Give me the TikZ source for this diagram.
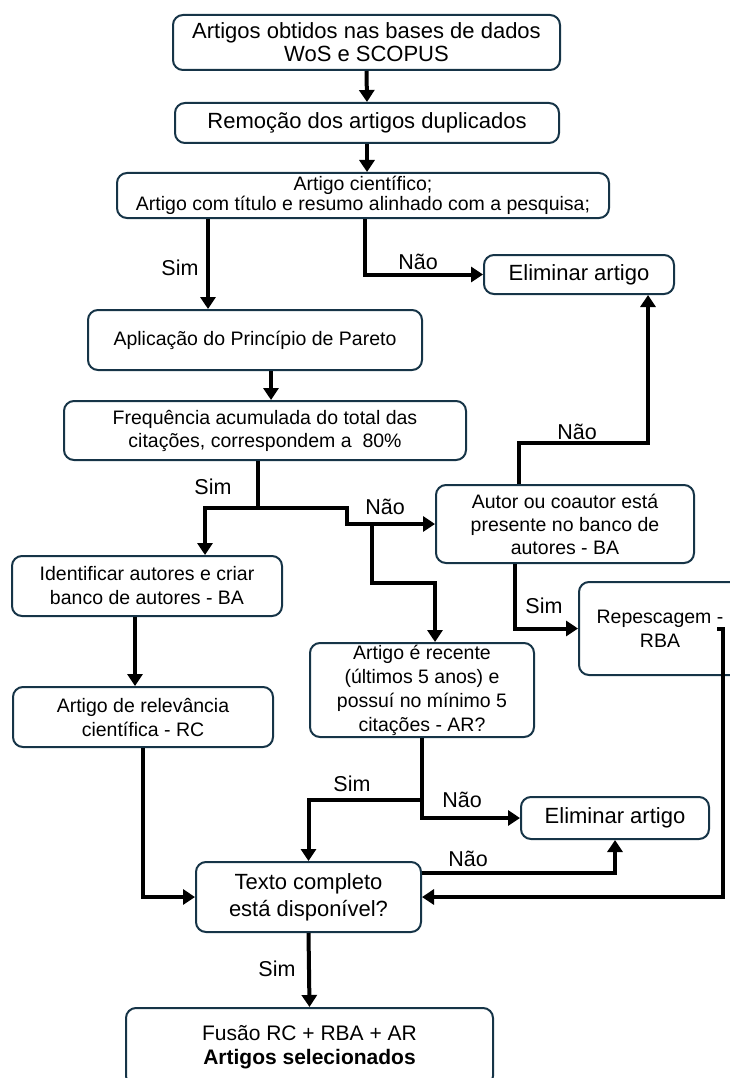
\documentclass[tikz,border=0pt]{standalone}
\usepackage{fontspec}
\setmainfont{Liberation Sans}
\usetikzlibrary{arrows.meta}
\definecolor{boxline}{HTML}{163447}

\begin{document}
\begin{tikzpicture}[
  x=1pt, y=-1pt,
  box/.style={draw=boxline, line width=2pt, rounded corners=10pt, align=center,
    inner sep=0pt, font=\fontsize{19.5}{24}\selectfont},
  big/.style={font=\fontsize{22}{23}\selectfont},
  flow/.style={line width=4pt, -{Triangle[length=12pt,width=15pt]}},
  link/.style={line width=4pt},
  lbl/.style={inner sep=0pt, font=\fontsize{21.5}{24}\selectfont}
]

\useasboundingbox (0,0) rectangle (730,1078);

\node [box, big, minimum width=387pt, minimum height=55pt] (obt) at (366.5,42.5) {Artigos obtidos nas bases de dados\\WoS e SCOPUS};
\node [box, big, minimum width=384pt, minimum height=40pt] (rem) at (367,123) {Remoção dos artigos duplicados};
\node [box, minimum width=492pt, minimum height=45pt, font=\fontsize{19.5}{20.5}\selectfont] (crit) at (363,195.5) {Artigo científico;\\Artigo com título e resumo alinhado com a pesquisa;};
\node [box, big, minimum width=190pt, minimum height=39pt] (elim1) at (579,274.5) {Eliminar artigo};
\node [box, minimum width=334pt, minimum height=60pt] (pareto) at (255,340) {Aplicação do Princípio de Pareto};
\node [box, minimum width=402pt, minimum height=59pt, font=\fontsize{19.5}{23}\selectfont] (freq) at (265,430.5) {Frequência acumulada do total das\\citações, correspondem a\ \ 80\%};
\node [box, minimum width=258pt, minimum height=78pt, font=\fontsize{19.5}{23}\selectfont] (autor) at (565,524) {Autor ou coautor está\\presente no banco de\\autores - BA};
\node [box, minimum width=270pt, minimum height=60pt] (ident) at (147,586) {Identificar autores e criar\\banco de autores - BA};
\node [box, minimum width=260pt, minimum height=60pt] (relev) at (143,717) {Artigo de relevância\\científica - RC};
\node [box, minimum width=224pt, minimum height=94pt] (recente) at (422,690) {Artigo é recente\\(últimos 5 anos) e\\possuí no mínimo 5\\citações - AR?};
\node [box, minimum width=162pt, minimum height=93pt] (repesc) at (660,628.5) {Repescagem -\\RBA};
\node [box, big, minimum width=188pt, minimum height=42pt] (elim2) at (615,818) {Eliminar artigo};
\node [box, minimum width=225pt, minimum height=70pt, font=\fontsize{22}{27}\selectfont] (texto) at (308.5,897) {Texto completo\\está disponível?};
\node [box, minimum width=367pt, minimum height=78pt, font=\fontsize{21}{24}\selectfont] (fusao) at (309.5,1047) {Fusão RC + RBA + AR\\\textbf{Artigos selecionados}};

\coordinate (jfreq) at (258,508);
\coordinate (jnao) at (372,524);
\coordinate (jrec) at (422,800);

\draw [flow] (obt.south) -- (rem.north);
\draw [flow] (rem.south) -- (rem.south |- crit.north);
\draw [flow] ([xshift=-155pt]crit.south) -- ([xshift=-47pt]pareto.north);
\draw [flow] ([xshift=2pt]crit.south) |- (elim1.west);
\draw [flow] ([xshift=16pt]pareto.south) -- ([xshift=6pt]freq.north);
\draw [link] ([xshift=-7pt]freq.south) -- (jfreq);
\draw [flow] (jfreq) -| ([xshift=58pt]ident.north);
\draw [flow] (jfreq) -- ++(89,0) |- (autor.west);
\draw [flow] (jnao) -- ++(0,59) -| ([xshift=13pt]recente.north);
\draw [flow] ([xshift=-46pt]autor.north) -- ++(0,-41) -| ([xshift=69pt]elim1.south);
\draw [flow] ([xshift=-50pt]autor.south) |- (repesc.west);
\draw [flow] ([xshift=-12pt]ident.south) -- ([xshift=-8pt]relev.north);
\draw [flow] (relev.south) |- (texto.west);
\draw [link] (recente.south) -- (jrec);
\draw [flow] (jrec) -| (texto.north);
\draw [flow] (jrec) |- (elim2.west);
\draw [flow] ([yshift=24pt]texto.east) -| (elim2.south);
\draw [flow] ([xshift=-25pt]repesc.east) -- ++(6,0) |- (texto.east);
\draw [flow] (texto.south) -- (fusao.north);

\node [lbl] (sim1) at (180,268) {Sim};
\node [lbl] (nao1) at (418,262) {Não};
\node [lbl] (sim2) at (213,487) {Sim};
\node [lbl] (nao2) at (385,507) {Não};
\node [lbl] (nao3) at (577,432) {Não};
\node [lbl] (sim3) at (544,606) {Sim};
\node [lbl] (sim4) at (352,784) {Sim};
\node [lbl] (nao4) at (462,800) {Não};
\node [lbl] (nao5) at (468,859) {Não};
\node [lbl] (sim5) at (277,969) {Sim};

\end{tikzpicture}
\end{document}
